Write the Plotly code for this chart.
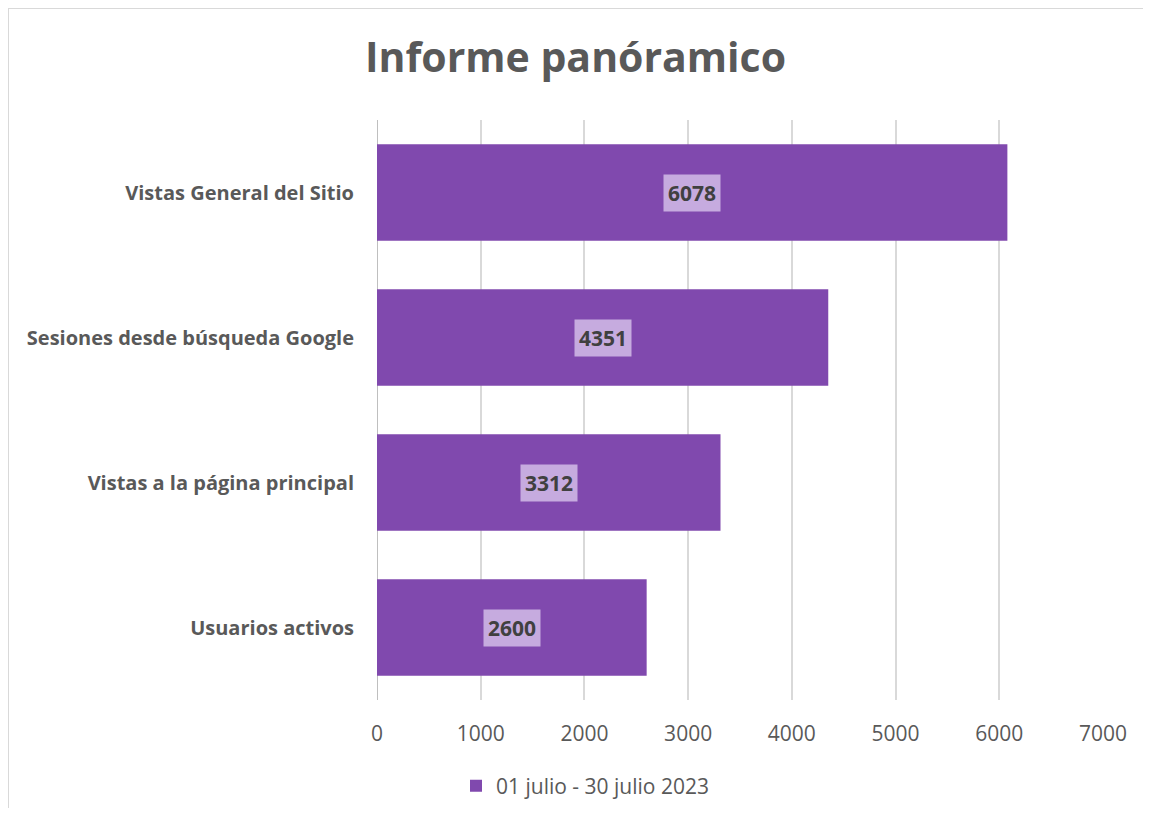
import plotly.graph_objects as go

categories = ["Vistas General del Sitio", "Sesiones desde búsqueda Google",
              "Vistas a la página principal", "Usuarios activos"]
values = [6078, 4351, 3312, 2600]
series_name = "01 julio - 30 julio 2023"
tick_vals = [0, 1000, 2000, 3000, 4000, 5000, 6000, 7000]

bar_color = "#8049AE"
font_fam = "'Open Sans', Lato, sans-serif"

# page has an 8px body margin
OFF = 8
W, H = 1151 - 2 * OFF, 816 - 2 * OFF
L = 377 - OFF
T = 120 - OFF
R = W - (1103 - OFF)
B = H - (700 - OFF)
pw, ph = W - L - R, H - T - B

fig = go.Figure()
fig.add_trace(go.Bar(
    x=values, y=categories, orientation="h", name=series_name,
    marker=dict(color=bar_color, line=dict(width=0)),
    showlegend=True, hoverinfo="x+y",
))

for c, v in zip(categories, values):
    fig.add_annotation(
        x=v / 2, y=c, xref="x", yref="y", text=f"<b>{v}</b>", showarrow=False,
        font=dict(family=font_fam, size=21, color="#404040"),
        bgcolor="rgba(205,182,228,0.9)", borderpad=4,
    )

fig.add_shape(type="rect", xref="paper", yref="paper",
              x0=(0 - L) / pw, x1=(W + 6 - L) / pw,
              y0=(ph - (H + 5 - T)) / ph,
              y1=(ph - (0 - T)) / ph,
              line=dict(color="#D9D9D9", width=2), fillcolor="rgba(0,0,0,0)", layer="below")

fig.update_layout(
    width=W, height=H,
    margin=dict(l=L, r=R, t=T, b=B, autoexpand=False),
    paper_bgcolor="white", plot_bgcolor="white",
    title=dict(text="<b>Informe panóramico</b>", x=0.5, xanchor="center", xref="container",
               y=1 - (58 - OFF) / H, yanchor="middle",
               font=dict(family=font_fam, size=41, color="#595959")),
    bargap=0.333,
    xaxis=dict(range=[0, 7000], tickvals=tick_vals, showgrid=True,
               gridcolor="#D9D9D9", gridwidth=1.5, zeroline=False,
               showline=False, ticks="",
               tickfont=dict(family=font_fam, size=21, color="#595959"),
               ticklabelstandoff=19),
    yaxis=dict(categoryorder="array", categoryarray=categories, autorange="reversed",
               showline=False, ticks="", ticklabelstandoff=22,
               tickfont=dict(family=font_fam, size=20, color="#595959"),
               tickprefix="<b>", ticksuffix="</b>"),
    legend=dict(orientation="h", x=(585 - OFF - L) / pw, xanchor="center",
                y=-(786 - 700) / ph, yanchor="middle",
                font=dict(family=font_fam, size=21, color="#595959"),
                itemwidth=30),
)
fig.add_shape(type="line", xref="x", yref="paper", x0=0, x1=0, y0=0, y1=1,
              line=dict(color="#BFBFBF", width=2), layer="below")

fig.write_html("out.html")
